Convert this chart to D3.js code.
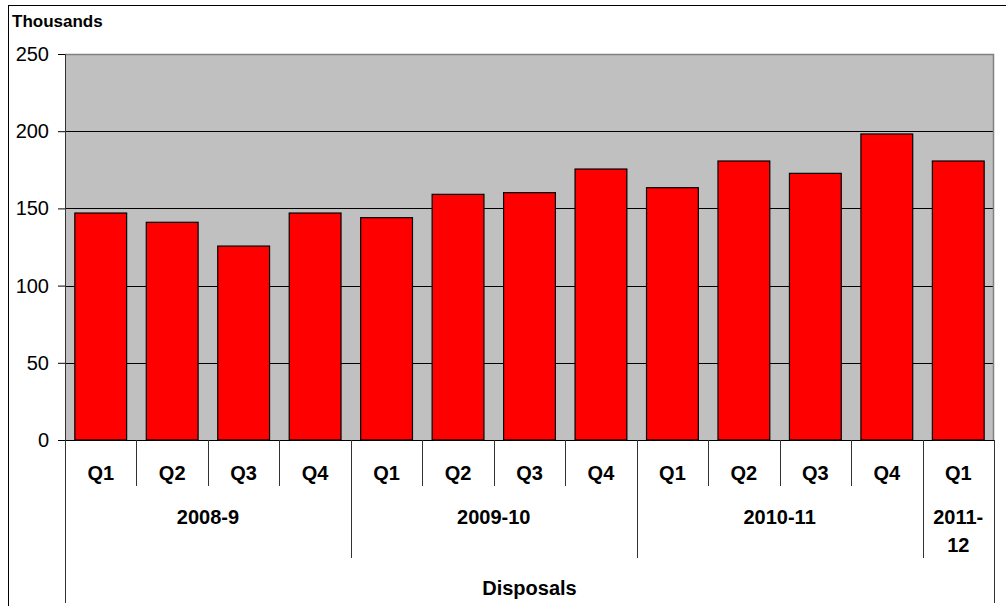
<!DOCTYPE html>
<html>
<head>
<meta charset="utf-8">
<script src="https://cdn.jsdelivr.net/npm/d3@7"></script>
<style>
  body { margin: 0; background: #fff; }
  svg { display: block; font-family: "Liberation Sans", Arial, sans-serif; }
</style>
</head>
<body>
<div id="chart"></div>
<script>
// Quarterly disposals (thousands)
const quarters = ["Q1", "Q2", "Q3", "Q4", "Q1", "Q2", "Q3", "Q4", "Q1", "Q2", "Q3", "Q4", "Q1"];
const values = [147, 141, 125.6, 147, 144, 159.1, 160.2, 175.5, 163.4, 180.7, 172.7, 198.2, 180.7];
const yearLabels = [["2008-9"], ["2009-10"], ["2010-11"], ["2011-", "12"]];
const yearSpans = [4, 4, 4, 1];
const yTicks = [0, 50, 100, 150, 200, 250];

const width = 1006;
const height = 606;
const margin = {top: 54, right: 12, bottom: 166, left: 65};

const svg = d3.select("#chart")
    .append("svg")
    .attr("width", width)
    .attr("height", height);

// outer frame
svg.append("rect")
    .attr("x", 8.5)
    .attr("y", 5.5)
    .attr("width", width + 10)
    .attr("height", height + 10)
    .attr("fill", "none")
    .attr("stroke", "#000")
    .attr("stroke-width", 1);

const x0 = margin.left;
const x1 = width - margin.right;
const y0 = height - margin.bottom;

const xScale = d3.scaleBand()
    .domain(d3.range(quarters.length))
    .range([x0, x1])
    .paddingInner(0.275)
    .paddingOuter(0.1375);

const yScale = d3.scaleLinear()
    .domain([0, 250])
    .range([y0, margin.top]);

const step = xScale.step();

// plot background
svg.append("rect")
    .attr("x", x0)
    .attr("y", margin.top)
    .attr("width", x1 - x0)
    .attr("height", y0 - margin.top)
    .attr("fill", "#c0c0c0");

// gridlines
svg.selectAll(".grid")
    .data(yTicks.filter(d => d > 0 && d < 250))
    .join("line")
    .attr("x1", x0)
    .attr("x2", x1)
    .attr("y1", d => Math.round(yScale(d)) + 0.5)
    .attr("y2", d => Math.round(yScale(d)) + 0.5)
    .attr("stroke", "#000")
    .attr("stroke-width", 1);

// top and right border of plot area
svg.append("path")
    .attr("d", `M${x0},${margin.top + 0.5}H${x1 - 0.5}V${y0}`)
    .attr("fill", "none")
    .attr("stroke", "#808080")
    .attr("stroke-width", 1.5);

// bars
svg.selectAll(".bar")
    .data(values)
    .join("rect")
    .attr("x", (d, i) => xScale(i))
    .attr("y", d => yScale(d))
    .attr("width", xScale.bandwidth())
    .attr("height", d => y0 - yScale(d))
    .attr("fill", "#ff0000")
    .attr("stroke", "#000")
    .attr("stroke-width", 1.2);

// Y axis
const yAxis = svg.append("g")
    .attr("transform", `translate(${x0},0)`)
    .call(d3.axisLeft(yScale).tickValues(yTicks).tickSize(7).tickPadding(9));
yAxis.select(".domain").attr("stroke", "#333");
yAxis.selectAll("text")
    .style("font-size", "20px")
    .attr("fill", "#000");

// X baseline
svg.append("line")
    .attr("x1", x0 - 7)
    .attr("x2", x1)
    .attr("y1", y0 + 0.5)
    .attr("y2", y0 + 0.5)
    .attr("stroke", "#000");

// category separators
let yearBounds = [0];
yearSpans.forEach(s => yearBounds.push(yearBounds[yearBounds.length - 1] + s));
const bounds = d3.range(quarters.length + 1).map(i => {
    let len = 46;
    if (i === 0 || i === quarters.length) len = 163;
    else if (yearBounds.includes(i)) len = 118;
    return {x: x0 + i * step, len};
});
svg.selectAll(".sep")
    .data(bounds)
    .join("line")
    .attr("x1", d => Math.round(d.x) + 0.5)
    .attr("x2", d => Math.round(d.x) + 0.5)
    .attr("y1", y0)
    .attr("y2", d => y0 + d.len)
    .attr("stroke", "#333")
    .attr("stroke-width", 1);

// quarter labels
svg.selectAll(".q")
    .data(quarters)
    .join("text")
    .attr("x", (d, i) => xScale(i) + xScale.bandwidth() / 2)
    .attr("y", y0 + 40)
    .attr("text-anchor", "middle")
    .style("font-size", "20px")
    .style("font-weight", "bold")
    .text(d => d);

// year labels
yearLabels.forEach((lines, k) => {
    const cx = x0 + (yearBounds[k] + yearBounds[k + 1]) / 2 * step;
    const t = svg.append("text")
        .attr("x", cx)
        .attr("y", y0 + 84)
        .attr("text-anchor", "middle")
        .style("font-size", "20px")
        .style("font-weight", "bold");
    lines.forEach((line, j) => {
        t.append("tspan")
            .attr("x", cx)
            .attr("dy", j === 0 ? 0 : 28)
            .text(line);
    });
});

// axis title
svg.append("text")
    .attr("x", (x0 + x1) / 2)
    .attr("y", y0 + 155)
    .attr("text-anchor", "middle")
    .style("font-size", "20px")
    .style("font-weight", "bold")
    .text("Disposals");

// units label
svg.append("text")
    .attr("x", 12)
    .attr("y", 27)
    .style("font-size", "17px")
    .style("font-weight", "bold")
    .text("Thousands");
</script>
</body>
</html>
